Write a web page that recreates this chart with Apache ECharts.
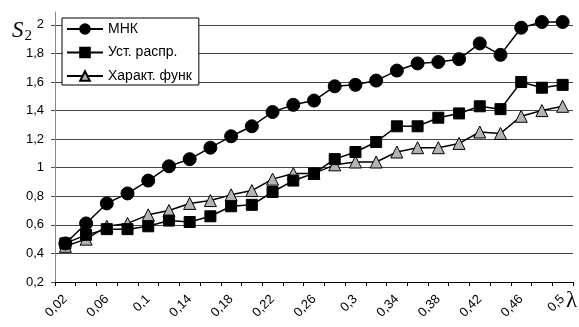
<!DOCTYPE html>
<html>
<head>
<meta charset="utf-8">
<script src="https://cdn.jsdelivr.net/npm/echarts@6/dist/echarts.min.js"></script>
<style>
  html, body { margin: 0; padding: 0; background: #fff; }
  #chart { width: 579px; height: 327px; }
</style>
</head>
<body>
<div id="chart"></div>
<script>
// lambda values (x categories)
var lambdas = [0.02, 0.04, 0.06, 0.08, 0.1, 0.12, 0.14, 0.16, 0.18, 0.2, 0.22, 0.24, 0.26,
  0.28, 0.3, 0.32, 0.34, 0.36, 0.38, 0.4, 0.42, 0.44, 0.46, 0.48, 0.5];
var seriesNames = ['МНК', 'Уст. распр.', 'Характ. функ'];
var mnk = [0.47, 0.61, 0.75, 0.82, 0.91, 1.01, 1.06, 1.14, 1.22, 1.29, 1.39, 1.44, 1.47,
  1.57, 1.58, 1.61, 1.68, 1.73, 1.74, 1.76, 1.87, 1.79, 1.98, 2.02, 2.02];
var ustRaspr = [0.47, 0.53, 0.57, 0.57, 0.59, 0.63, 0.62, 0.66, 0.73, 0.74, 0.83, 0.91, 0.96,
  1.06, 1.11, 1.18, 1.29, 1.29, 1.35, 1.38, 1.43, 1.41, 1.60, 1.56, 1.58];
var harFunk = [0.45, 0.50, 0.59, 0.61, 0.67, 0.70, 0.75, 0.77, 0.81, 0.84, 0.92, 0.96, 0.96,
  1.02, 1.04, 1.04, 1.11, 1.14, 1.14, 1.17, 1.25, 1.24, 1.36, 1.40, 1.43];

var fmt = function (v) { return String(v).replace('.', ','); };
var font = '"Liberation Sans", Arial, sans-serif';
var serif = '"Liberation Serif", "Times New Roman", serif';

var chart = echarts.init(document.getElementById('chart'));

var lineSeries = function (name, data, symbol, size, fill) {
  return {
    name: name,
    type: 'line',
    data: data,
    symbol: symbol,
    symbolSize: size,
    showAllSymbol: true,
    lineStyle: { color: '#000', width: 1.5 },
    itemStyle: { color: fill, borderColor: '#000', borderWidth: 1 },
    animation: false
  };
};

var option = {
  backgroundColor: '#fff',
  title: [
    {
      text: '{s|S}{sub|2}',
      left: 7, top: 12,
      textStyle: {
        fontWeight: 'normal',
        rich: {
          s: { fontFamily: serif, fontStyle: 'italic', fontWeight: 'normal', fontSize: 23, color: '#000' },
          sub: { fontFamily: serif, fontWeight: 'normal', fontSize: 15, color: '#000', verticalAlign: 'bottom', padding: [12, 0, 0, 1] }
        }
      }
    },
    {
      text: 'λ',
      left: 561, top: 284,
      textStyle: { fontFamily: serif, fontSize: 23, fontWeight: 'normal', color: '#000' }
    }
  ],
  legend: {
    orient: 'vertical',
    left: 62, top: 18,
    data: seriesNames,
    itemWidth: 36, itemHeight: 12, itemGap: 9.5,
    padding: [4, 7, 2, 4],
    backgroundColor: '#fff',
    borderColor: '#000',
    borderWidth: 1,
    textStyle: { fontFamily: font, fontSize: 14, color: '#000' }
  },
  grid: { left: 55, right: 6, top: 12, bottom: 45 },
  xAxis: {
    type: 'category',
    data: lambdas.map(fmt),
    boundaryGap: true,
    axisLine: { lineStyle: { color: '#000', width: 1 } },
    axisTick: { show: true, interval: 0, length: 4, lineStyle: { color: '#000' } },
    axisLabel: {
      interval: 1,
      rotate: 45,
      margin: 15,
      fontFamily: font, fontSize: 13, color: '#000'
    },
    splitLine: { show: false }
  },
  yAxis: {
    type: 'value',
    min: 0.2, max: 2.09, interval: 0.2,
    axisLine: { show: true, lineStyle: { color: '#888', width: 1 } },
    axisTick: { show: true, length: 4, lineStyle: { color: '#555' } },
    axisLabel: {
      showMaxLabel: false,
      margin: 11,
      fontFamily: font, fontSize: 13, color: '#000',
      formatter: function (v) { return fmt(Math.round(v * 10) / 10); }
    },
    splitLine: { show: true, showMinLine: false, showMaxLine: false, lineStyle: { color: '#444', width: 1 } }
  },
  series: [
    lineSeries(seriesNames[2], harFunk, 'triangle', 12, '#b3b3b3'),
    lineSeries(seriesNames[1], ustRaspr, 'rect', 11, '#000'),
    lineSeries(seriesNames[0], mnk, 'circle', 13, '#000')
  ]
};

chart.setOption(option);
</script>
</body>
</html>
